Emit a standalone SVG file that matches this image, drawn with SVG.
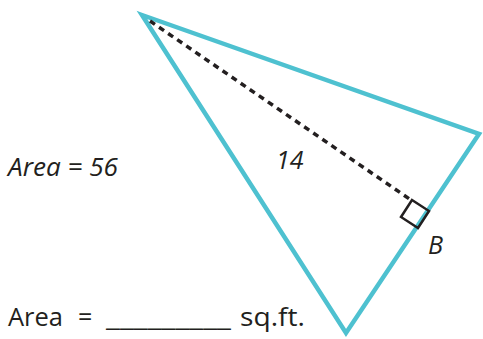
<svg xmlns="http://www.w3.org/2000/svg" width="483" height="339" viewBox="0 0 483 339">
<style>
.tri{fill:none;stroke:#4ec1d0;stroke-width:4.5;stroke-linejoin:miter}
.t{font-family:"Open Sans","Liberation Sans",sans-serif;fill:#231f20;font-size:25px}
.i{font-style:italic}
</style>
<rect width="483" height="339" fill="#fff"/>
<g id="triangle">
<polygon class="tri" points="142,15 479,134 346,333"/>
</g>
<g id="connectors">
<line x1="150" y1="21" x2="411" y2="200" stroke="#231f20" stroke-width="3.5" stroke-dasharray="6,5"/>
<polygon points="412,200 429,211 418,228 401,217" fill="none" stroke="#231f20" stroke-width="2.5"/>
</g>
<g id="labels">
<text class="t i" x="8" y="176" textLength="110" lengthAdjust="spacingAndGlyphs">Area = 56</text>
<text class="t i" x="276" y="169">14</text>
<text class="t i" x="428" y="254">B</text>
<text class="t" x="8" y="326" font-size="26" textLength="55" lengthAdjust="spacingAndGlyphs">Area</text>
<text class="t" x="78" y="326" font-size="26">=</text>
<text class="t" x="106" y="326" font-size="26" textLength="125" lengthAdjust="spacingAndGlyphs">_________</text>
<text class="t" x="240" y="326" font-size="26" textLength="65" lengthAdjust="spacingAndGlyphs">sq.ft.</text>
</g>
</svg>
